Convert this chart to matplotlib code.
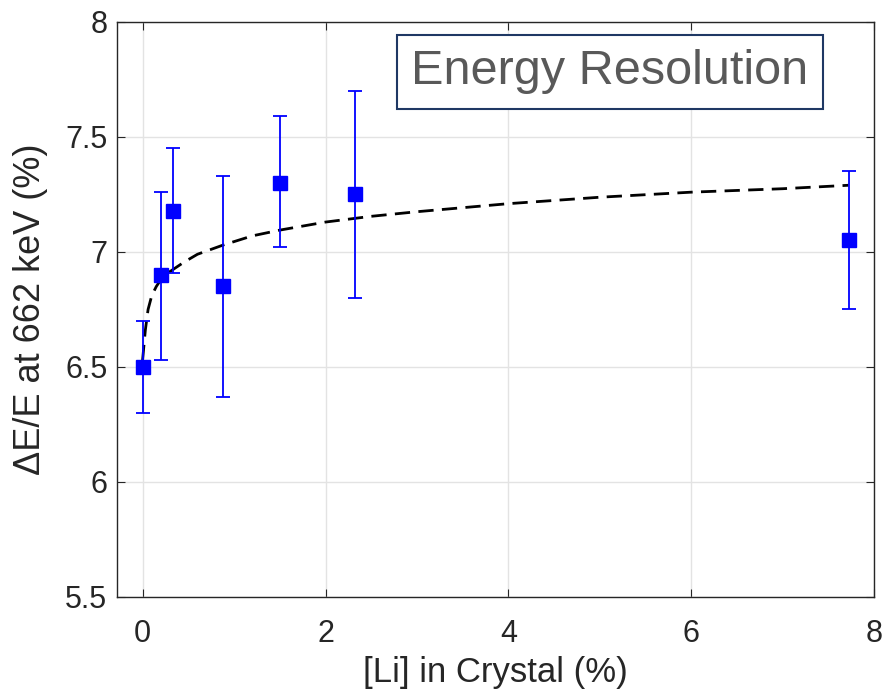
import matplotlib
matplotlib.use("Agg")
import matplotlib.pyplot as plt

plt.rcParams['font.family'] = ['Liberation Sans', 'DejaVu Sans']

# measured points
li_pct = [0.0, 0.2, 0.33, 0.88, 1.5, 2.32, 7.72]
res = [6.50, 6.90, 7.18, 6.85, 7.30, 7.25, 7.05]
err_lo = [6.30, 6.53, 6.91, 6.37, 7.02, 6.80, 6.75]
err_hi = [6.70, 7.26, 7.45, 7.33, 7.59, 7.70, 7.35]

# dashed trend curve
fit_x = [0.0, 0.03, 0.06, 0.1, 0.15, 0.2, 0.3, 0.45, 0.6, 0.88, 1.2, 1.5,
         2.0, 2.5, 3.0, 4.0, 5.0, 6.0, 7.0, 7.72]
fit_y = [6.53, 6.66, 6.75, 6.81, 6.85, 6.88, 6.915, 6.955, 6.99, 7.03, 7.07, 7.095,
         7.13, 7.155, 7.175, 7.21, 7.238, 7.26, 7.275, 7.29]

xticks = [0, 2, 4, 6, 8]
yticks = [5.5, 6, 6.5, 7, 7.5, 8]

lower = [r - lo for r, lo in zip(res, err_lo)]
upper = [hi - r for r, hi in zip(res, err_hi)]

fig = plt.figure(figsize=(8.93, 6.97), dpi=100)
ax = fig.add_axes([0.131, 0.1435, 0.848, 0.825])

ax.plot(fit_x, fit_y, color='black', linestyle=(0, (5.5, 3)), linewidth=2.0, zorder=3)
ax.errorbar(li_pct, res, yerr=[lower, upper], fmt='s', color='blue',
            markersize=9.5, elinewidth=1.3, capsize=5, capthick=1.3, zorder=4)

ax.set_xlim(-0.28, 8)
ax.set_ylim(5.5, 8)
ax.set_xticks(xticks)
ax.set_yticks(yticks)
ax.set_yticklabels(['5.5', '6', '6.5', '7', '7.5', '8'])
ax.grid(True, color='#e3e3e3', linewidth=1)
ax.set_axisbelow(True)

for s in ax.spines.values():
    s.set_color('#262626')
    s.set_linewidth(1.0)
ax.tick_params(axis='both', direction='in', top=True, right=True, length=6,
               color='#262626', labelcolor='#262626', labelsize=22)
ax.tick_params(axis='x', pad=16)
ax.tick_params(axis='y', pad=7)

ax.set_xlabel('[Li] in Crystal (%)', fontsize=25, color='#262626', labelpad=5)
ax.set_ylabel('ΔE/E at 662 keV (%)', fontsize=26, color='#262626', labelpad=12)

ax.text(0.651, 0.913, 'Energy Resolution', transform=ax.transAxes, fontsize=35,
        color='#595959', ha='center', va='center', zorder=5,
        bbox=dict(boxstyle='square,pad=0.3', facecolor='white',
                  edgecolor='#1f3864', linewidth=1.5))

fig.savefig('out.png', dpi=100)
